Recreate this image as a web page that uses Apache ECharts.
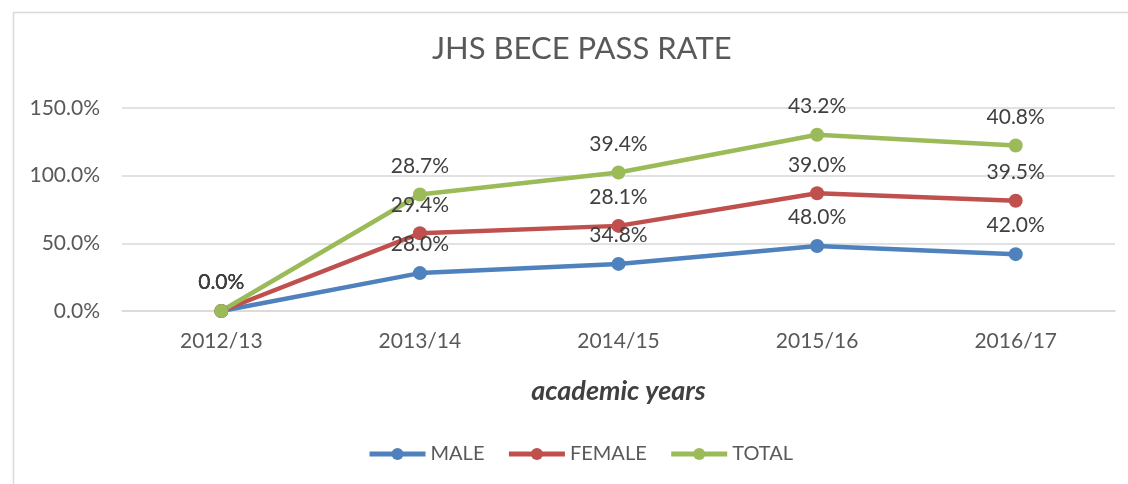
<!DOCTYPE html>
<html>
<head>
<meta charset="utf-8">
<script src="https://cdn.jsdelivr.net/npm/echarts@6/dist/echarts.min.js"></script>
<style>
html,body{margin:0;padding:0;background:#fff;}
#chart{width:1128px;height:484px;}
</style>
</head>
<body>
<div id="chart"></div>
<script>
const categories = ['2012/13', '2013/14', '2014/15', '2015/16', '2016/17'];
const maleValues = [0, 28.0, 34.8, 48.0, 42.0];
const femaleValues = [0, 29.4, 28.1, 39.0, 39.5];
const totalValues = [0, 28.7, 39.4, 43.2, 40.8];
const seriesNames = ['MALE', 'FEMALE', 'TOTAL'];
const colors = ['#4F81BD', '#C0504D', '#9BBB59'];

const FONT = 'Lato, "Open Sans", sans-serif';
const chart = echarts.init(document.getElementById('chart'), null, {renderer: 'canvas'});

function mkSeries(name, data, color) {
  return {
    name: name,
    type: 'line',
    stack: 'all',
    data: data,
    color: color,
    symbol: 'circle',
    symbolSize: 14,
    lineStyle: {width: 4.5, color: color},
    itemStyle: {color: color},
    label: {
      show: true,
      position: 'top',
      distance: 11,
      color: '#404040',
      fontSize: 21,
      fontFamily: FONT,
      formatter: p => Number(p.value).toFixed(1) + '%'
    },
    emphasis: {disabled: true},
    animation: false
  };
}

chart.setOption({
  backgroundColor: '#fff',
  animation: false,
  title: {
    text: 'JHS BECE PASS RATE',
    left: 432,
    top: 33,
    padding: 0,
    textStyle: {fontFamily: FONT, fontSize: 31, fontWeight: 'normal', color: '#595959'}
  },
  graphic: [{
    type: 'rect',
    left: 11, top: 10,
    shape: {width: 1200, height: 600},
    style: {fill: 'none', stroke: '#d9d9d9', lineWidth: 1.5},
    silent: true
  }],
  legend: {
    data: seriesNames,
    top: 439,
    left: 362,
    itemWidth: 56,
    itemHeight: 15,
    itemGap: 22,
    lineStyle: {width: 5},
    textStyle: {fontFamily: FONT, fontSize: 20, color: '#595959', padding: 0}
  },
  grid: {left: 122, right: 13, top: 108, bottom: 173},
  xAxis: {
    type: 'category',
    data: categories,
    boundaryGap: true,
    axisLine: {show: true, lineStyle: {color: '#d9d9d9', width: 1.5}},
    axisTick: {show: false},
    axisLabel: {fontFamily: FONT, fontSize: 21, color: '#595959', margin: 20},
    name: 'academic years',
    nameLocation: 'middle',
    nameGap: 67,
    nameTextStyle: {fontFamily: FONT, fontSize: 27, fontWeight: 'bold', fontStyle: 'italic', color: '#404040'}
  },
  yAxis: {
    type: 'value',
    min: 0, max: 150, interval: 50,
    axisLine: {show: false},
    axisTick: {show: false},
    splitLine: {lineStyle: {color: '#d9d9d9', width: 1.5}},
    axisLabel: {fontFamily: FONT, fontSize: 21, color: '#595959', margin: 22, formatter: v => v.toFixed(1) + '%'}
  },
  series: [
    mkSeries(seriesNames[0], maleValues, colors[0]),
    mkSeries(seriesNames[1], femaleValues, colors[1]),
    mkSeries(seriesNames[2], totalValues, colors[2])
  ]
});
</script>
</body>
</html>
